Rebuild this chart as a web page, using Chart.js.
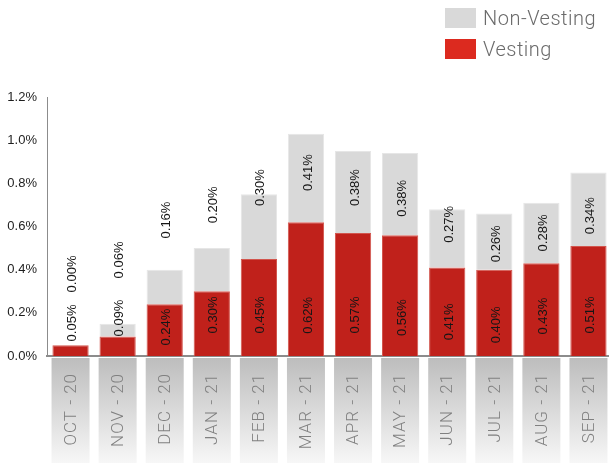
<!DOCTYPE html>
<html>
<head>
<meta charset="utf-8">
<script src="https://cdn.jsdelivr.net/npm/chart.js@4/dist/chart.umd.min.js"></script>
<style>
  html, body { margin: 0; padding: 0; background: #fff; overflow: hidden; }
  #wrap { position: relative; width: 612px; height: 463px; }
  #legend { position: absolute; left: 445px; top: 8px; font-family: Roboto, sans-serif; font-weight: 300; font-size: 20px; letter-spacing: 0.5px; color: #6b6b6b; }
  .item { display: flex; align-items: center; height: 20px; margin-bottom: 11px; }
  .box { width: 31px; height: 20px; margin-right: 7px; }
</style>
</head>
<body>
<div id="wrap">
  <canvas id="c" width="612" height="463"></canvas>
  <div id="legend">
    <div class="item"><span class="box" style="background:#d9d9d9"></span><span>Non-Vesting</span></div>
    <div class="item"><span class="box" style="background:#dc2a1f"></span><span>Vesting</span></div>
  </div>
</div>
<script>
const categories = ['OCT - 20','NOV - 20','DEC - 20','JAN - 21','FEB - 21','MAR - 21','APR - 21','MAY - 21','JUN - 21','JUL - 21','AUG - 21','SEP - 21'];
const vesting    = [0.05, 0.09, 0.24, 0.30, 0.45, 0.62, 0.57, 0.56, 0.41, 0.40, 0.43, 0.51];
const nonVesting = [0.00, 0.06, 0.16, 0.20, 0.30, 0.41, 0.38, 0.38, 0.27, 0.26, 0.28, 0.34];
// where each value label sits (in % units of the y axis)
const vestLabelAt    = [0.153, 0.176, 0.134, 0.19, 0.19, 0.188, 0.19, 0.178, 0.158, 0.144, 0.185, 0.19];
const nonVestLabelAt = [0.38, 0.445, 0.63, 0.70, 0.78, 0.85, 0.78, 0.73, 0.61, 0.52, 0.57, 0.65];
const yTicks = [0, 0.2, 0.4, 0.6, 0.8, 1.0, 1.2];

const labelPlugin = {
  id: 'customLabels',
  afterDraw(chart) {
    const ctx = chart.ctx;
    const xs = chart.scales.x, ys = chart.scales.y;
    const area = chart.chartArea;
    // category label backgrounds and text
    categories.forEach((cat, i) => {
      const cx = xs.getPixelForValue(i);
      const top = area.bottom + 2;
      const bottom = chart.height;
      const g = ctx.createLinearGradient(0, top, 0, bottom);
      g.addColorStop(0, '#bdbdbd');
      g.addColorStop(1, '#f7f7f7');
      ctx.save();
      ctx.fillStyle = g;
      ctx.fillRect(cx - 19, top, 38, bottom - top);
      ctx.translate(cx, area.bottom + 17);
      ctx.rotate(-Math.PI / 2);
      ctx.font = '300 17px Roboto, sans-serif';
      if ('letterSpacing' in ctx) ctx.letterSpacing = '1px';
      ctx.fillStyle = '#808080';
      ctx.textAlign = 'right';
      ctx.textBaseline = 'middle';
      ctx.fillText(cat, 0, 1);
      ctx.restore();
    });
    // value labels
    const drawLabel = (val, at, i) => {
      const cx = xs.getPixelForValue(i);
      const cy = ys.getPixelForValue(at);
      ctx.save();
      ctx.translate(cx + 2, cy);
      ctx.rotate(-Math.PI / 2);
      ctx.font = '13px "Liberation Sans", Arial, sans-serif';
      ctx.fillStyle = '#161616';
      ctx.textAlign = 'center';
      ctx.textBaseline = 'middle';
      ctx.fillText(val.toFixed(2) + '%', 0, 0);
      ctx.restore();
    };
    vesting.forEach((v, i) => drawLabel(v, vestLabelAt[i], i));
    nonVesting.forEach((v, i) => drawLabel(v, nonVestLabelAt[i], i));
  }
};

new Chart(document.getElementById('c'), {
  type: 'bar',
  data: {
    labels: categories,
    datasets: [
      { label: 'Vesting', data: vesting, backgroundColor: '#c0211b', borderColor: '#d2554d', borderWidth: 1, borderSkipped: 'bottom' },
      { label: 'Non-Vesting', data: nonVesting, backgroundColor: '#d9d9d9', borderColor: '#e6e6e6', borderWidth: 1, borderSkipped: 'bottom' }
    ]
  },
  options: {
    responsive: false,
    animation: false,
    events: [],
    layout: { padding: { top: 97, left: 0, right: 0, bottom: 0 } },
    plugins: { legend: { display: false }, tooltip: { enabled: false } },
    datasets: { bar: { categoryPercentage: 1, barPercentage: 0.77 } },
    scales: {
      x: {
        stacked: true,
        offset: true,
        grid: { display: false, drawTicks: false },
        border: { display: true, color: '#8c8c8c', width: 2 },
        ticks: { display: false },
        afterFit(s) { s.height = 107; }
      },
      y: {
        stacked: true,
        min: 0, max: 1.2,
        afterBuildTicks(s) { s.ticks = yTicks.map(v => ({ value: v })); },
        grid: { display: false, drawTicks: false },
        border: { display: true, color: '#8c8c8c', width: 1 },
        ticks: {
          padding: 10,
          color: '#1e1e1e',
          font: { family: '"Liberation Sans", Arial, sans-serif', size: 13 },
          callback: v => Number(v).toFixed(1) + '%'
        },
        afterFit(s) { s.width = 47; }
      }
    }
  },
  plugins: [labelPlugin]
});
</script>
</body>
</html>
